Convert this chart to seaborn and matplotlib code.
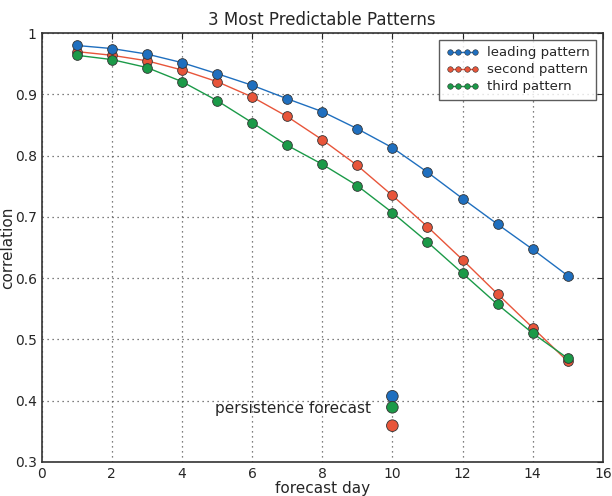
import matplotlib
matplotlib.use("Agg")
import matplotlib.pyplot as plt
import seaborn as sns
import pandas as pd
from matplotlib.lines import Line2D

days = list(range(1, 16))
leading = [0.980, 0.975, 0.966, 0.952, 0.934, 0.915, 0.893, 0.872, 0.844, 0.813, 0.773, 0.730, 0.688, 0.647, 0.604]
second = [0.970, 0.964, 0.955, 0.940, 0.921, 0.896, 0.864, 0.826, 0.784, 0.735, 0.684, 0.630, 0.574, 0.519, 0.464]
third = [0.964, 0.957, 0.944, 0.921, 0.890, 0.854, 0.817, 0.786, 0.751, 0.707, 0.659, 0.608, 0.557, 0.510, 0.469]
series_names = ["leading pattern", "second pattern", "third pattern"]
persist_day = 10
persistence = [0.407, 0.359, 0.389]
colors = ["#1f6fbf", "#e8553a", "#1b9a48"]
xticks = [0, 2, 4, 6, 8, 10, 12, 14, 16]
yticks = [0.3, 0.4, 0.5, 0.6, 0.7, 0.8, 0.9, 1.0]
yticklabels = ["0.3", "0.4", "0.5", "0.6", "0.7", "0.8", "0.9", "1"]

sns.set_style("white")
plt.rcParams["font.family"] = ["DejaVu Sans"]

fig = plt.figure(figsize=(6.12, 4.96), dpi=100)
ax = fig.add_axes([0.068, 0.069, 0.917, 0.864])

df = pd.DataFrame({
    "day": days * 3,
    "corr": leading + second + third,
    "series": [series_names[0]] * 15 + [series_names[1]] * 15 + [series_names[2]] * 15,
})

zorders = [4, 3, 4]
for name, col, z in zip(series_names, colors, zorders):
    sub = df[df["series"] == name]
    sns.lineplot(data=sub, x="day", y="corr", ax=ax, color=col, marker="o",
                 markersize=7, markeredgecolor="#333333", markeredgewidth=0.6,
                 linewidth=1.0, label=name, zorder=z, legend=False)

pdf = pd.DataFrame({"day": [persist_day] * 3, "corr": persistence, "series": series_names})
sns.scatterplot(data=pdf, x="day", y="corr", hue="series", palette=colors, ax=ax,
                s=70, edgecolor="#333333", linewidth=0.6, legend=False, zorder=5)

ax.text(9.4, 0.387, "persistence forecast", ha="right", va="center", fontsize=11)

ax.set_xlim(0, 16)
ax.set_ylim(0.3, 1.0)
ax.set_xticks(xticks)
ax.set_yticks(yticks)
ax.set_yticklabels(yticklabels)
ax.tick_params(direction="in", top=True, right=True, labelsize=10, length=4, width=0.8)
ax.grid(True, linestyle=(0, (1, 3)), color="#555555", linewidth=0.9)
for s in ax.spines.values():
    s.set_color("#333333")
    s.set_linewidth(1.2)

ax.set_title("3 Most Predictable Patterns", fontsize=12)
ax.set_xlabel("forecast day", fontsize=11, labelpad=0)
ax.set_ylabel("correlation", fontsize=11)
ax.yaxis.set_label_coords(-0.047, 0.5)

handles = [Line2D([0], [0], color=c, marker="o", markersize=4, linewidth=1,
                  markeredgecolor="#333333", markeredgewidth=0.4) for c in colors]
leg = ax.legend(handles, series_names, loc="upper right", numpoints=4, fontsize=9.5,
                frameon=True, fancybox=False, handlelength=2.5, handletextpad=0.6,
                borderpad=0.5, labelspacing=0.3)
leg.get_frame().set_edgecolor("#333333")
leg.get_frame().set_linewidth(1.0)

fig.savefig("out.png", dpi=100)
